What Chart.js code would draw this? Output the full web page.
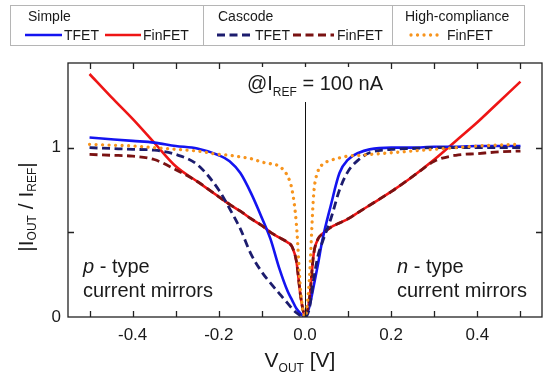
<!DOCTYPE html>
<html>
<head>
<meta charset="utf-8">
<script src="https://cdn.jsdelivr.net/npm/chart.js@4.4.1/dist/chart.umd.min.js"></script>
<style>
  html, body { margin: 0; padding: 0; background: #fff; }
  #wrap { width: 560px; height: 383px; }
</style>
</head>
<body>
<div id="wrap"><canvas id="chart" width="560" height="383"></canvas></div>
<script>
// V_OUT grid (V), denser near 0 where the curves turn sharply
var vOut = [-0.5, -0.45, -0.4, -0.35, -0.3, -0.25, -0.2,
  -0.175, -0.15, -0.125, -0.1,
  -0.08, -0.06, -0.04, -0.03, -0.02, -0.01,
  0,
  0.01, 0.02, 0.03, 0.04,
  0.06, 0.08, 0.1,
  0.125, 0.15, 0.2,
  0.25, 0.3, 0.35, 0.4, 0.45, 0.5];

// |I_OUT / I_REF|
var simpleTfet = [1.06, 1.05, 1.04, 1.03, 1.01, 0.995, 0.955,
  0.92, 0.85, 0.73, 0.585,
  0.46, 0.29, 0.15, 0.1, 0.05, 0.02,
  0,
  0.06, 0.18, 0.31, 0.45,
  0.66, 0.85, 0.93,
  0.97, 0.99, 1.0,
  1.0, 1.005, 1.005, 1.01, 1.01, 1.01];

var simpleFinfet = [1.435, 1.3, 1.17, 1.03, 0.89, 0.8, 0.71,
  0.665, 0.625, 0.58, 0.54,
  0.5, 0.47, 0.44, 0.415, 0.33, 0.12,
  0.01,
  0.1, 0.37, 0.46, 0.49,
  0.53, 0.555, 0.58,
  0.62, 0.66, 0.74,
  0.83, 0.93, 1.04, 1.15, 1.27, 1.39];

var cascodeTfet = [1.0, 0.995, 0.99, 0.985, 0.96, 0.9, 0.75,
  0.64, 0.52, 0.37, 0.265,
  0.2, 0.14, 0.08, 0.05, 0.025, 0.008,
  0,
  0.05, 0.22, 0.36, 0.44,
  0.58, 0.75, 0.86,
  0.93, 0.97, 0.99,
  0.995, 1.0, 1.0, 1.0, 1.0, 1.0];

var cascodeFinfet = [0.96, 0.955, 0.95, 0.93, 0.87, 0.8, 0.71,
  0.665, 0.625, 0.58, 0.54,
  0.5, 0.47, 0.44, 0.415, 0.33, 0.12,
  0.01,
  0.1, 0.37, 0.46, 0.49,
  0.53, 0.555, 0.58,
  0.62, 0.66, 0.74,
  0.83, 0.92, 0.955, 0.965, 0.975, 0.98];

var hcFinfet = [1.02, 1.015, 1.01, 1.0, 0.99, 0.98, 0.96,
  0.955, 0.945, 0.935, 0.915,
  0.905, 0.89, 0.83, 0.75, 0.55, 0.15,
  0,
  0.22, 0.72, 0.86, 0.9,
  0.925, 0.94, 0.95,
  0.955, 0.96, 0.97,
  0.98, 0.99, 1.0, 1.01, 1.015, 1.02];

// axis ticks (every tick gets a mark, only some get a label)
var xTicks = [-0.5, -0.4, -0.3, -0.2, -0.1, 0, 0.1, 0.2, 0.3, 0.4, 0.5];
var xLabels = ['', '-0.4', '', '-0.2', '', '0.0', '', '0.2', '', '0.4', ''];
var yTicks = [0, 0.5, 1];
var yLabels = ['0', '', '1'];

var FONT = '"Liberation Sans", Arial, sans-serif';

function pts(ys) {
  return vOut.map(function(v, i) { return { x: v, y: ys[i] }; });
}

function series(label, ys, color, dash, width, cap, order) {
  return {
    label: label,
    data: pts(ys),
    borderColor: color,
    backgroundColor: color,
    borderWidth: width,
    borderDash: dash,
    borderCapStyle: cap,
    pointRadius: 0,
    fill: false,
    cubicInterpolationMode: 'monotone',
    order: order
  };
}

var datasets = [
  series('Simple TFET', simpleTfet, '#1414f0', [], 2.6, 'butt', 3),
  series('Simple FinFET', simpleFinfet, '#ee1515', [], 2.6, 'butt', 4),
  series('Cascode TFET', cascodeTfet, '#1c1c6e', [8, 4.5], 2.8, 'butt', 1),
  series('Cascode FinFET', cascodeFinfet, '#7a1212', [8, 4.5], 2.8, 'butt', 2),
  series('High-compliance FinFET', hcFinfet, '#f7941d', [0.01, 6.5], 3.3, 'round', 0)
];

function rich(ctx, parts, x, y, centered) {
  var w = 0;
  parts.forEach(function(p) {
    ctx.font = (p[3] ? 'italic ' : '') + p[1] + 'px ' + FONT;
    w += ctx.measureText(p[0]).width;
  });
  var cx = centered ? x - w / 2 : x;
  parts.forEach(function(p) {
    ctx.font = (p[3] ? 'italic ' : '') + p[1] + 'px ' + FONT;
    ctx.fillText(p[0], cx, y + (p[2] || 0));
    cx += ctx.measureText(p[0]).width;
  });
  return w;
}

function sample(ctx, ds, x1, x2, y) {
  ctx.save();
  ctx.strokeStyle = ds.borderColor;
  ctx.lineWidth = ds.borderWidth;
  ctx.lineCap = ds.borderCapStyle;
  ctx.setLineDash(ds.borderDash);
  ctx.beginPath();
  ctx.moveTo(x1, y);
  ctx.lineTo(x2, y);
  ctx.stroke();
  ctx.restore();
}

var decor = {
  id: 'decor',
  beforeDatasetsDraw: function(chart) {
    var ctx = chart.ctx, a = chart.chartArea;
    var x0 = Math.round(chart.scales.x.getPixelForValue(0)) + 0.5;
    ctx.save();
    ctx.strokeStyle = '#111';
    ctx.lineWidth = 1;
    ctx.beginPath();
    ctx.moveTo(x0, a.top);
    ctx.lineTo(x0, a.bottom);
    ctx.stroke();
    ctx.restore();
  },
  afterDraw: function(chart) {
    var ctx = chart.ctx, a = chart.chartArea;
    var xs = chart.scales.x, ys = chart.scales.y;
    ctx.save();

    // frame + inward ticks on all four sides
    ctx.strokeStyle = '#222';
    ctx.lineWidth = 1.3;
    ctx.strokeRect(a.left, a.top, a.right - a.left, a.bottom - a.top);
    ctx.beginPath();
    xs.ticks.forEach(function(t) {
      var px = Math.round(xs.getPixelForValue(t.value)) + 0.5;
      ctx.moveTo(px, a.bottom); ctx.lineTo(px, a.bottom - 6);
      ctx.moveTo(px, a.top); ctx.lineTo(px, a.top + 6);
    });
    ys.ticks.forEach(function(t) {
      if (t.value <= 0) return;
      var py = Math.round(ys.getPixelForValue(t.value)) + 0.5;
      ctx.moveTo(a.left, py); ctx.lineTo(a.left + 6, py);
      ctx.moveTo(a.right, py); ctx.lineTo(a.right - 6, py);
    });
    ctx.stroke();

    ctx.fillStyle = '#1a1a1a';
    ctx.textBaseline = 'alphabetic';

    // axis titles
    rich(ctx, [['V', 21], ['OUT', 12, 5], [' [V]', 21]], 300, 367, true);
    ctx.save();
    ctx.translate(27, 207);
    ctx.rotate(-Math.PI / 2);
    ctx.textBaseline = 'middle';
    rich(ctx, [['|I', 21], ['OUT', 12, 6], [' / I', 21], ['REF', 12, 6], ['|', 21]], 0, 0, true);
    ctx.restore();

    // annotation with white box over the zero line
    ctx.fillStyle = '#fff';
    ctx.fillRect(244, 67, 136, 35);
    ctx.fillStyle = '#1a1a1a';
    rich(ctx, [['@I', 20], ['REF', 12, 6], [' = 100 nA', 20]], 247, 90, false);

    rich(ctx, [['p', 20, 0, true], [' - type', 20]], 83, 273, false);
    rich(ctx, [['current mirrors', 20]], 83, 297, false);
    rich(ctx, [['n', 20, 0, true], [' - type', 20]], 397, 273, false);
    rich(ctx, [['current mirrors', 20]], 397, 297, false);

    // grouped legend
    var d = chart.data.datasets;
    ctx.strokeStyle = '#b5b5b5';
    ctx.lineWidth = 1;
    ctx.strokeRect(10.5, 5.5, 514, 40);
    ctx.beginPath();
    ctx.moveTo(203.5, 5.5); ctx.lineTo(203.5, 45.5);
    ctx.moveTo(392.5, 5.5); ctx.lineTo(392.5, 45.5);
    ctx.stroke();
    ctx.font = '14px ' + FONT;
    ctx.fillText('Simple', 28, 21);
    ctx.fillText('Cascode', 218, 21);
    ctx.fillText('High-compliance', 405, 21);
    sample(ctx, d[0], 25, 62, 35);
    ctx.fillText('TFET', 64, 40);
    sample(ctx, d[1], 105, 141, 35);
    ctx.fillText('FinFET', 143, 40);
    sample(ctx, d[2], 217, 252, 35);
    ctx.fillText('TFET', 255, 40);
    sample(ctx, d[3], 293, 334, 35);
    ctx.fillText('FinFET', 337, 40);
    sample(ctx, d[4], 411, 441, 35);
    ctx.fillText('FinFET', 447, 40);

    ctx.restore();
  }
};

new Chart(document.getElementById('chart').getContext('2d'), {
  type: 'line',
  data: { datasets: datasets },
  options: {
    responsive: false,
    animation: false,
    layout: { padding: { top: 63, right: 18, left: 0, bottom: 0 } },
    plugins: { legend: { display: false }, tooltip: { enabled: false } },
    scales: {
      x: {
        type: 'linear',
        min: -0.55,
        max: 0.55,
        grid: { display: false, drawTicks: false },
        border: { display: false },
        afterBuildTicks: function(s) {
          s.ticks = xTicks.map(function(v) { return { value: v }; });
        },
        ticks: {
          autoSkip: false,
          maxRotation: 0,
          padding: 8,
          color: '#1a1a1a',
          font: { size: 17, family: FONT },
          callback: function(v, i) { return xLabels[i]; }
        },
        afterFit: function(s) { s.height = 66; }
      },
      y: {
        min: 0,
        max: 1.5,
        grid: { display: false, drawTicks: false },
        border: { display: false },
        afterBuildTicks: function(s) {
          s.ticks = yTicks.map(function(v) { return { value: v }; });
        },
        ticks: {
          autoSkip: false,
          padding: 7,
          color: '#1a1a1a',
          font: { size: 17, family: FONT },
          callback: function(v, i) { return yLabels[i]; }
        },
        afterFit: function(s) { s.width = 68; }
      }
    }
  },
  plugins: [decor]
});
</script>
</body>
</html>
